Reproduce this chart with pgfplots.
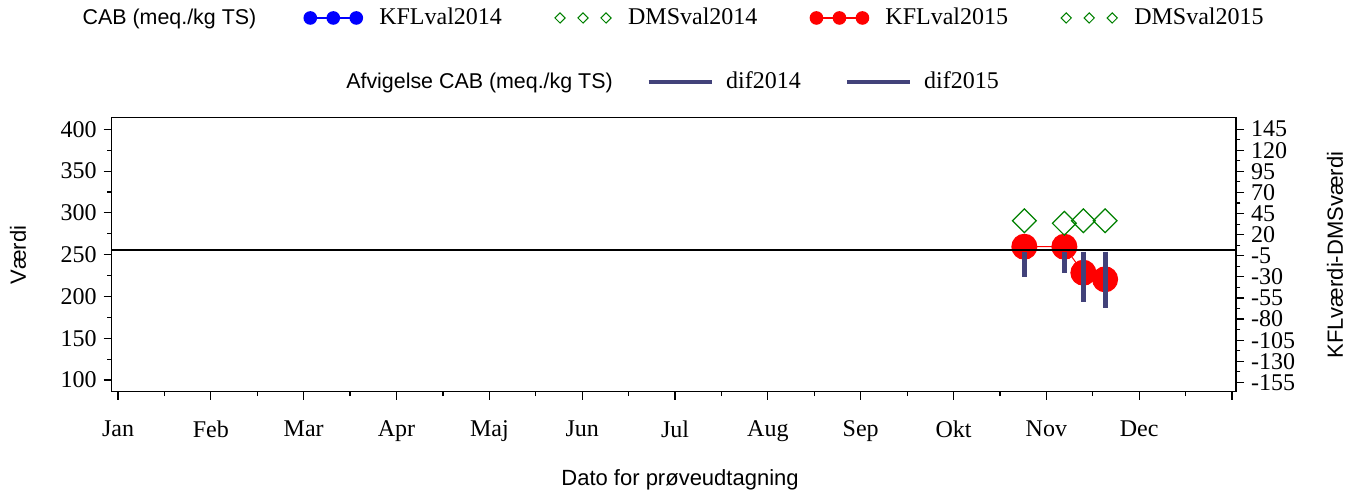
\documentclass[border=0pt]{standalone}
\usepackage{pgfplots}
\pgfplotsset{compat=1.18}
\usepackage{fontspec}
\setmainfont{Liberation Serif}
\setsansfont{Liberation Sans}
\definecolor{difc}{RGB}{66,66,122}
\definecolor{dmsg}{RGB}{0,128,0}
\begin{document}
\begin{tikzpicture}
\pgfplotsset{
  threemarks/.style={legend image code/.code={
    \draw[##1, mark repeat=1] plot coordinates {(0pt,0pt) (11.5pt,0pt) (23pt,0pt)};}},
  threeonly/.style={legend image code/.code={
    \draw[##1, mark repeat=1, only marks] plot coordinates {(0pt,0pt) (11.5pt,0pt) (23pt,0pt)};}},
  thickline/.style={legend image code/.code={
    \draw[##1] (0pt,0pt) -- (31.7pt,0pt);}},
  myaxis/.style={scale only axis, width=562.15pt, height=137.2pt,
    xmin=-0.068, xmax=12.043, at={(55.85pt,51.65pt)}, anchor=south west,
    tick label style={font=\fontsize{12}{14}\selectfont},
    /pgf/number format/assume math mode=true,
    tick align=outside, major tick length=4pt, minor tick length=2.2pt,
    axis line style={line width=0.6pt}, tick style={line width=0.6pt, black},
  },
}
\begin{axis}[myaxis,
  ymin=86, ymax=414.4, ytick={100,150,...,400}, minor y tick num=1,
  xtick={0,...,12}, xticklabels={Jan,Feb,Mar,Apr,Maj,Jun,Jul,Aug,Sep,Okt,Nov,Dec,{}},
  minor x tick num=1, xtick pos=bottom, ytick pos=left,
  xticklabel style={yshift=-7pt},
  every axis x label/.style={at={(axis description cs:0.5055,-0.322)}, anchor=center, font=\sffamily\fontsize{11}{13}\selectfont},
  every axis y label/.style={at={(axis description cs:-0.0833,0.498)}, rotate=90, anchor=center, font=\sffamily\fontsize{11}{13}\selectfont},
  xlabel={Dato for prøveudtagning}, ylabel={Værdi},
  legend columns=5,
  legend style={at={(axis description cs:0.4936,1.362)}, anchor=center, draw=none, fill=none,
    font=\fontsize{12}{14}\selectfont,
    /tikz/every even column/.append style={column sep=24.5pt},
    /tikz/every odd column/.append style={column sep=6.5pt}},
]
\addlegendimage{empty legend}\addlegendentry{\sffamily\fontsize{10.7}{13}\selectfont CAB (meq./kg TS)\hspace*{-2.5pt}}
\addlegendimage{threemarks, blue, line width=0.8pt, mark=*, mark size=3pt, mark options={fill=blue, draw=blue}}\addlegendentry{KFLval2014}
\addlegendimage{threeonly, dmsg, mark=square, mark size=1.8pt, mark options={rotate=45, line width=0.5pt, fill=none}}\addlegendentry{DMSval2014}
\addlegendimage{threemarks, red, line width=0.8pt, mark=*, mark size=3pt, mark options={fill=red, draw=red}}\addlegendentry{KFLval2015}
\addlegendimage{threeonly, dmsg, mark=square, mark size=1.8pt, mark options={rotate=45, line width=0.5pt, fill=none}}\addlegendentry{DMSval2015}
\addplot[forget plot, red, line width=0.5pt, mark=*, mark size=6.25pt, mark options={fill=red, draw=red}]
  coordinates {(9.763,259.5) (10.194,259.5) (10.399,228.4) (10.633,220.5)};
\addplot[forget plot, only marks, dmsg, mark=square, mark size=4.2pt, mark options={rotate=45, line width=0.6pt, fill=none}]
  coordinates {(9.763,290.6) (10.194,287.5) (10.399,290.6) (10.633,290.6)};
\end{axis}
\begin{axis}[myaxis,
  ymin=-166, ymax=159, ytick={-155,-130,...,145}, minor y tick num=1,
  axis y line*=right, axis x line=none,
  every axis y label/.style={at={(axis description cs:1.088,0.498)}, rotate=90, anchor=center, font=\sffamily\fontsize{11}{13}\selectfont},
  ylabel={KFLværdi-DMSværdi},
  legend columns=3,
  legend style={at={(axis description cs:0.4953,1.129)}, anchor=center, draw=none, fill=none,
    font=\fontsize{12}{14}\selectfont,
    /tikz/every even column/.append style={column sep=20pt},
    /tikz/every odd column/.append style={column sep=4pt}},
]
\addlegendimage{empty legend}\addlegendentry{\sffamily\fontsize{10.7}{13}\selectfont Afvigelse CAB (meq./kg TS)\hspace*{-5pt}}
\addlegendimage{thickline, difc, line width=2pt}\addlegendentry{dif2014}
\addlegendimage{thickline, difc, line width=2pt}\addlegendentry{dif2015}
\addplot[forget plot, ycomb, difc, line width=2.5pt] coordinates {(9.763,-30) (10.194,-25) (10.399,-60) (10.633,-67)};
\addplot[forget plot, black, line width=1pt] coordinates {(-0.068,2) (12.043,2)};
\end{axis}
\pgfresetboundingbox
\path[use as bounding box] (0,0) rectangle (677.5pt,247.5pt);
\end{tikzpicture}
\end{document}
